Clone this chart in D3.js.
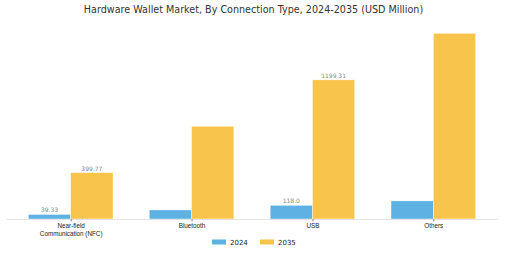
<!DOCTYPE html>
<html>
<head>
<meta charset="utf-8">
<script src="https://cdn.jsdelivr.net/npm/d3@7"></script>
<style>
  body { margin: 0; background: #fff; }
  svg { font-family: "DejaVu Sans", sans-serif; display: block; }
</style>
</head>
<body>
<div id="chart"></div>
<script>
// data
const categories = ["Near-field\nCommunication (NFC)", "Bluetooth", "USB", "Others"];
const years = ["2024", "2035"];
const values2024 = [39.33, 78, 118.0, 156];
const values2035 = [399.77, 800, 1199.31, 1601];
// only some bars carry value labels
const labels2024 = ["39.33", null, "118.0", null];
const labels2035 = ["399.77", null, "1199.31", null];

const width = 505, height = 253;
const margin = { top: 24, right: 7, bottom: 34, left: 6 };
const colors = { "2024": "#5DB2E3", "2035": "#F9C44B" };

const svg = d3.select("#chart").append("svg")
    .attr("width", width).attr("height", height);

svg.append("text")
    .attr("x", width / 2 + 1).attr("y", 13)
    .attr("text-anchor", "middle")
    .attr("font-size", 9.6)
    .attr("fill", "#333")
    .text("Hardware Wallet Market, By Connection Type, 2024-2035 (USD Million)");

const baseline = height - margin.bottom;

// continuous x like a grouped bar plot: index positions, bar width 0.35
const barW = 0.35;
const x = d3.scaleLinear()
    .domain([-0.535, 3.535])
    .range([margin.left, width - margin.right]);

const y = d3.scaleLinear()
    .domain([0, 1681])
    .range([baseline, margin.top]);

const series = [
  { year: "2024", vals: values2024, labels: labels2024, off: -barW / 2 },
  { year: "2035", vals: values2035, labels: labels2035, off: barW / 2 }
];

series.forEach(s => {
  const g = svg.append("g");
  g.selectAll("rect")
    .data(s.vals)
    .join("rect")
      .attr("x", (d, i) => x(i + s.off - barW / 2))
      .attr("width", x(barW) - x(0))
      .attr("y", d => y(d))
      .attr("height", d => baseline - y(d))
      .attr("fill", colors[s.year])
      .attr("stroke", "#fff")
      .attr("stroke-width", 0.4);

  g.selectAll("text")
    .data(s.vals.map((v, i) => ({ v, i, t: s.labels[i] })).filter(d => d.t))
    .join("text")
      .attr("x", d => x(d.i + s.off))
      .attr("y", d => y(d.v) - 2)
      .attr("text-anchor", "middle")
      .attr("font-size", 6)
      .attr("fill", "#888")
      .text(d => d.t);
});

// x axis
const xAxis = svg.append("g")
    .attr("transform", `translate(0,${baseline})`)
    .call(d3.axisBottom(x).tickValues(d3.range(categories.length)).tickSize(2.5).tickSizeOuter(0));
xAxis.select(".domain").attr("stroke", "#ddd").attr("stroke-width", 0.8);
xAxis.selectAll(".tick line").attr("stroke", "#444").attr("stroke-width", 0.6);
xAxis.selectAll(".tick text").remove();
xAxis.selectAll(".tick").each(function (d) {
  const lines = categories[d].split("\n");
  const t = d3.select(this).append("text")
      .attr("fill", "#222")
      .attr("font-size", 6.3)
      .attr("text-anchor", "middle")
      .attr("y", 9);
  lines.forEach((l, k) => t.append("tspan").attr("x", 0).attr("dy", k ? 7.6 : 0).text(l));
});

// legend
const legend = svg.append("g").attr("transform", "translate(212,242)");
years.forEach((yr, k) => {
  const lg = legend.append("g").attr("transform", `translate(${k * 48},0)`);
  lg.append("rect").attr("x", 0).attr("y", -2.5).attr("width", 14).attr("height", 5).attr("fill", colors[yr]);
  lg.append("text").attr("x", 18).attr("y", 2.5).attr("font-size", 7).attr("fill", "#222").text(yr);
});
</script>
</body>
</html>
